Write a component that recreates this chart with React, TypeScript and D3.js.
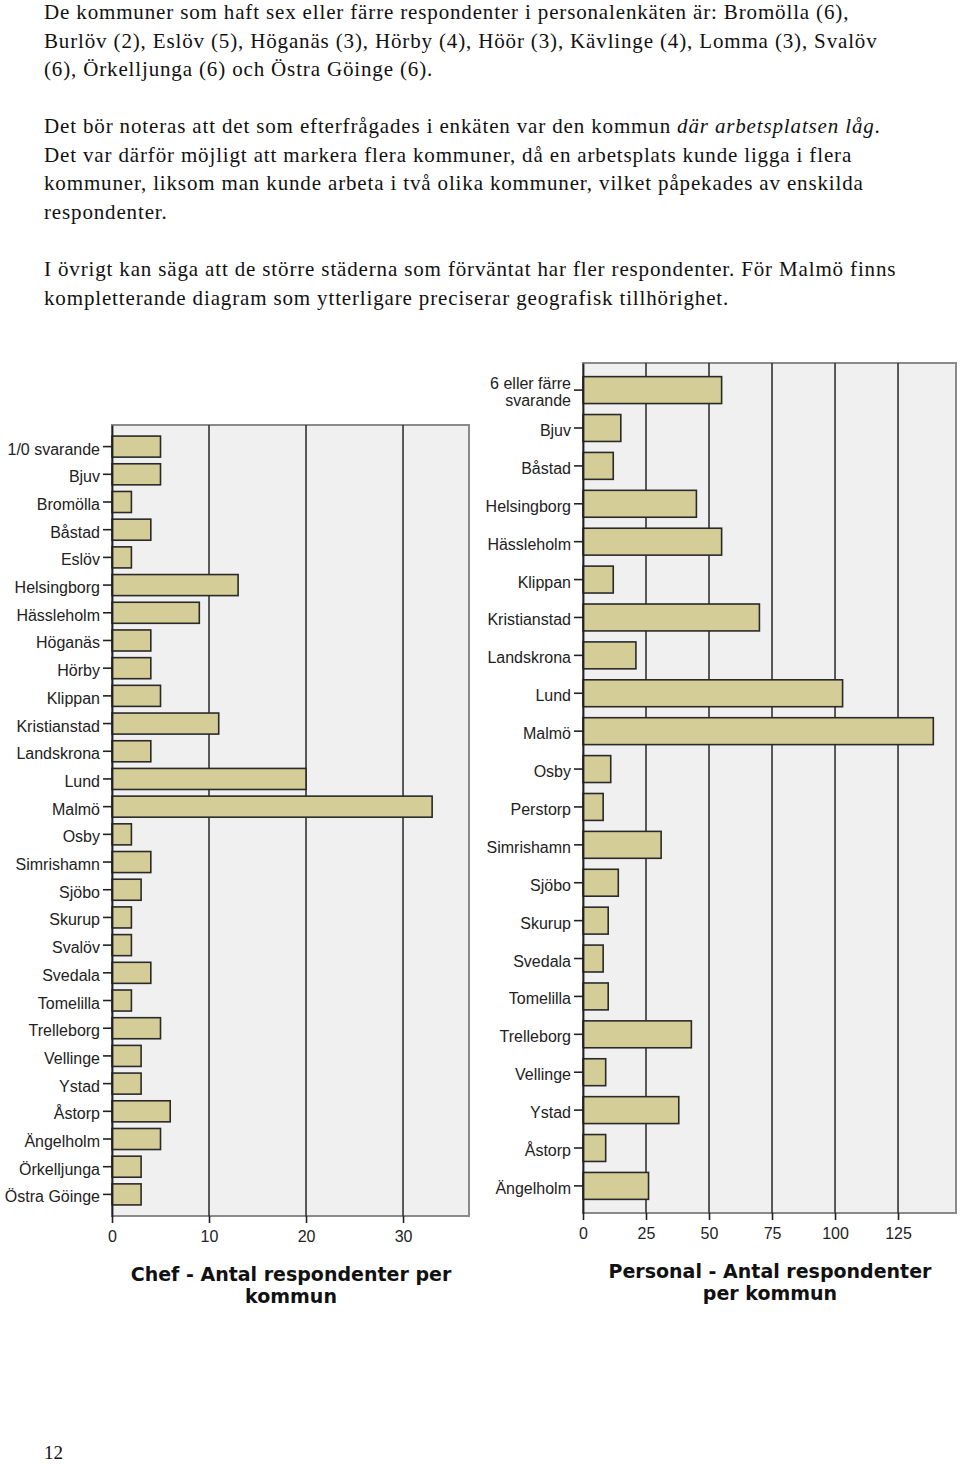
import * as d3 from 'd3';
import React, { useEffect, useRef } from 'react';

// Chef-enkäten
const chefKommuner = ['1/0 svarande', 'Bjuv', 'Bromölla', 'Båstad', 'Eslöv', 'Helsingborg', 'Hässleholm', 'Höganäs', 'Hörby', 'Klippan', 'Kristianstad', 'Landskrona', 'Lund', 'Malmö', 'Osby', 'Simrishamn', 'Sjöbo', 'Skurup', 'Svalöv', 'Svedala', 'Tomelilla', 'Trelleborg', 'Vellinge', 'Ystad', 'Åstorp', 'Ängelholm', 'Örkelljunga', 'Östra Göinge'];
const chefAntal = [5, 5, 2, 4, 2, 13, 9, 4, 4, 5, 11, 4, 20, 33, 2, 4, 3, 2, 2, 4, 2, 5, 3, 3, 6, 5, 3, 3];
const chefTicks = [0, 10, 20, 30];

// Personalenkäten
const personalKommuner = ['6 eller färre svarande', 'Bjuv', 'Båstad', 'Helsingborg', 'Hässleholm', 'Klippan', 'Kristianstad', 'Landskrona', 'Lund', 'Malmö', 'Osby', 'Perstorp', 'Simrishamn', 'Sjöbo', 'Skurup', 'Svedala', 'Tomelilla', 'Trelleborg', 'Vellinge', 'Ystad', 'Åstorp', 'Ängelholm'];
const personalAntal = [55, 15, 12, 45, 55, 12, 70, 21, 103, 139, 11, 8, 31, 14, 10, 8, 10, 43, 9, 38, 9, 26];
const personalTicks = [0, 25, 50, 75, 100, 125];

const stycken = [
  { y: 19, lines: [
    'De kommuner som haft sex eller färre respondenter i personalenkäten är: Bromölla (6),',
    'Burlöv (2), Eslöv (5), Höganäs (3), Hörby (4), Höör (3), Kävlinge (4), Lomma (3), Svalöv',
    '(6), Örkelljunga (6) och Östra Göinge (6).',
  ] },
  { y: 133, lines: [
    'Det bör noteras att det som efterfrågades i enkäten var den kommun |där arbetsplatsen låg|.',
    'Det var därför möjligt att markera flera kommuner, då en arbetsplats kunde ligga i flera',
    'kommuner, liksom man kunde arbeta i två olika kommuner, vilket påpekades av enskilda',
    'respondenter.',
  ] },
  { y: 276, lines: [
    'I övrigt kan säga att de större städerna som förväntat har fler respondenter. För Malmö finns',
    'kompletterande diagram som ytterligare preciserar geografisk tillhörighet.',
  ] },
];

const BAR_FILL = '#d4cd98';
const SANS = 'Arial, "Liberation Sans", sans-serif';

function drawChart(svg, opts) {
  const { kommuner, antal, ticks, xMax, xRange, yRange, pInner, pOuter, title, titleX, titleY } = opts;
  const g = svg.append('g');

  const x = d3.scaleLinear().domain([0, xMax]).range(xRange);
  const y = d3.scaleBand().domain(kommuner).range(yRange).paddingInner(pInner).paddingOuter(pOuter);

  // plot background
  g.append('rect')
    .attr('x', xRange[0]).attr('y', yRange[0])
    .attr('width', xRange[1] - xRange[0]).attr('height', yRange[1] - yRange[0])
    .attr('fill', '#f0f0f0')
    .attr('stroke', '#8a8a8a').attr('stroke-width', 2);

  // vertical grid lines
  g.selectAll('.grid')
    .data(ticks.filter(t => t > 0))
    .enter().append('line')
    .attr('x1', d => x(d)).attr('x2', d => x(d))
    .attr('y1', yRange[0]).attr('y2', yRange[1])
    .attr('stroke', '#333').attr('stroke-width', 1.6);

  // bars
  g.selectAll('.bar')
    .data(kommuner)
    .enter().append('rect')
    .attr('x', x(0))
    .attr('y', d => y(d))
    .attr('width', (d, i) => x(antal[i]) - x(0))
    .attr('height', y.bandwidth())
    .attr('fill', BAR_FILL)
    .attr('stroke', '#2a2a2a').attr('stroke-width', 1.6);

  // x axis
  const xAxis = g.append('g')
    .attr('transform', 'translate(0,' + yRange[1] + ')')
    .call(d3.axisBottom(x).tickValues(ticks).tickSize(7).tickPadding(8).tickSizeOuter(0));
  xAxis.select('.domain').remove();
  xAxis.selectAll('line').attr('stroke', '#222').attr('stroke-width', 1.6);
  xAxis.selectAll('text').attr('font-family', SANS).attr('font-size', 16).attr('fill', '#222');

  // y axis
  const yAxis = g.append('g')
    .attr('transform', 'translate(' + xRange[0] + ',0)')
    .call(d3.axisLeft(y).tickSize(9).tickPadding(3).tickSizeOuter(0));
  yAxis.select('.domain').attr('stroke', '#222').attr('stroke-width', 1.8);
  yAxis.selectAll('line').attr('stroke', '#222').attr('stroke-width', 1.6);
  yAxis.selectAll('text')
    .attr('font-family', SANS).attr('font-size', 16).attr('fill', '#222')
    .attr('dy', '0.5em')
    .each(function (d) {
      const t = d3.select(this);
      if (d.length > 16) {
        const cut = d.lastIndexOf(' ');
        t.text(null).attr('dy', null);
        t.append('tspan').attr('x', -12).attr('dy', '-0.05em').text(d.slice(0, cut));
        t.append('tspan').attr('x', -12).attr('dy', '1.05em').text(d.slice(cut + 1));
      }
    });

  // title
  g.selectAll('.title')
    .data(title)
    .enter().append('text')
    .attr('x', titleX)
    .attr('y', (d, i) => titleY + i * 22)
    .attr('text-anchor', 'middle')
    .attr('font-family', '"DejaVu Sans", Verdana, sans-serif')
    .attr('font-weight', 'bold')
    .attr('font-size', 19)
    .attr('fill', '#111')
    .text(d => d);
}

export default function App() {
  const ref = useRef(null);

  useEffect(() => {
    const svg = d3.select(ref.current);
    svg.selectAll('*').remove();

    // body text
    const body = svg.append('g')
      .attr('font-family', '"Liberation Serif", "Times New Roman", serif')
      .attr('font-size', 21)
      .attr('letter-spacing', 0.85)
      .attr('fill', '#111');
    stycken.forEach(p => {
      p.lines.forEach((line, i) => {
        const t = body.append('text').attr('x', 44).attr('y', p.y + i * 28.7);
        line.split('|').forEach((part, j) => {
          t.append('tspan').attr('font-style', j % 2 ? 'italic' : 'normal').text(part);
        });
      });
    });

    drawChart(svg, {
      kommuner: chefKommuner, antal: chefAntal, ticks: chefTicks,
      xMax: 36.8, xRange: [112, 469], yRange: [425, 1216],
      pInner: 0.24, pOuter: 0.4,
      title: ['Chef - Antal respondenter per', 'kommun'], titleX: 291, titleY: 1281,
    });
    drawChart(svg, {
      kommuner: personalKommuner, antal: personalAntal, ticks: personalTicks,
      xMax: 148, xRange: [583, 956], yRange: [363, 1213],
      pInner: 0.29, pOuter: 0.36,
      title: ['Personal - Antal respondenter', 'per kommun'], titleX: 770, titleY: 1278,
    });

    svg.append('text')
      .attr('x', 44).attr('y', 1459)
      .attr('font-family', '"Liberation Serif", serif')
      .attr('font-size', 19)
      .attr('fill', '#111')
      .text('12');
  }, []);

  return (
    <svg ref={ref} width={960} height={1464}
      style={{ position: 'absolute', left: 0, top: 0, background: '#fff' }} />
  );
}
